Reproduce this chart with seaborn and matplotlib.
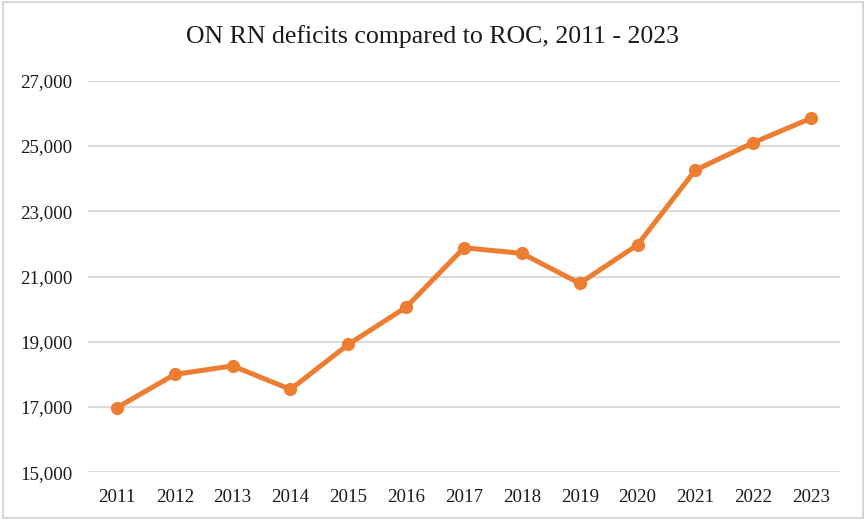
import matplotlib
matplotlib.use("Agg")
import matplotlib.pyplot as plt
import seaborn as sns
import pandas as pd
from matplotlib.patches import Rectangle
from matplotlib.ticker import FuncFormatter

years = ["2011", "2012", "2013", "2014", "2015", "2016", "2017",
         "2018", "2019", "2020", "2021", "2022", "2023"]
deficits = [16980, 18000, 18260, 17540, 18920, 20060, 21880,
            21710, 20790, 21970, 24260, 25100, 25850]
y_ticks = [15000, 17000, 19000, 21000, 23000, 25000, 27000]
title = "ON RN deficits compared to ROC, 2011 - 2023"

df = pd.DataFrame({"year": years, "deficit": deficits})

sns.set_theme(style="white")
plt.rcParams["font.family"] = ["Liberation Serif", "DejaVu Serif"]

fig = plt.figure(figsize=(8.66, 5.2), dpi=100)
ax = fig.add_axes([88 / 866, 1 - 472.3 / 520, 752 / 866, 391.6 / 520])

sns.lineplot(data=df, x="year", y="deficit", ax=ax, color="#ED7D31",
             linewidth=3.6, marker="o", markersize=9.5,
             markeredgecolor="#ED7D31", markeredgewidth=0, zorder=3)

ax.set_xlim(-0.5, len(years) - 0.5)
ax.set_ylim(y_ticks[0], y_ticks[-1])
ax.set_yticks(y_ticks)
ax.yaxis.set_major_formatter(FuncFormatter(lambda v, p: f"{int(v):,}"))
ax.grid(axis="y", color="#D9D9D9", linewidth=1.4)
ax.grid(axis="x", visible=False)
ax.set_axisbelow(True)
for s in ax.spines.values():
    s.set_visible(False)
ax.tick_params(axis="both", length=0, labelsize=13.6, colors="#1a1a1a")
ax.tick_params(axis="y", pad=11)
ax.tick_params(axis="x", pad=12)
ax.set_xlabel("")
ax.set_ylabel("")

fig.text(0.5, 1 - 43 / 520, title, ha="center", va="baseline",
         fontsize=18.6, color="#1a1a1a")

# thin frame around the whole chart area
fig.patches.append(Rectangle((3 / 866, 2 / 520), 860 / 866, 516 / 520,
                             transform=fig.transFigure, fill=False,
                             edgecolor="#D0D0D0", linewidth=1.2))

fig.savefig("out.png", dpi=100)
